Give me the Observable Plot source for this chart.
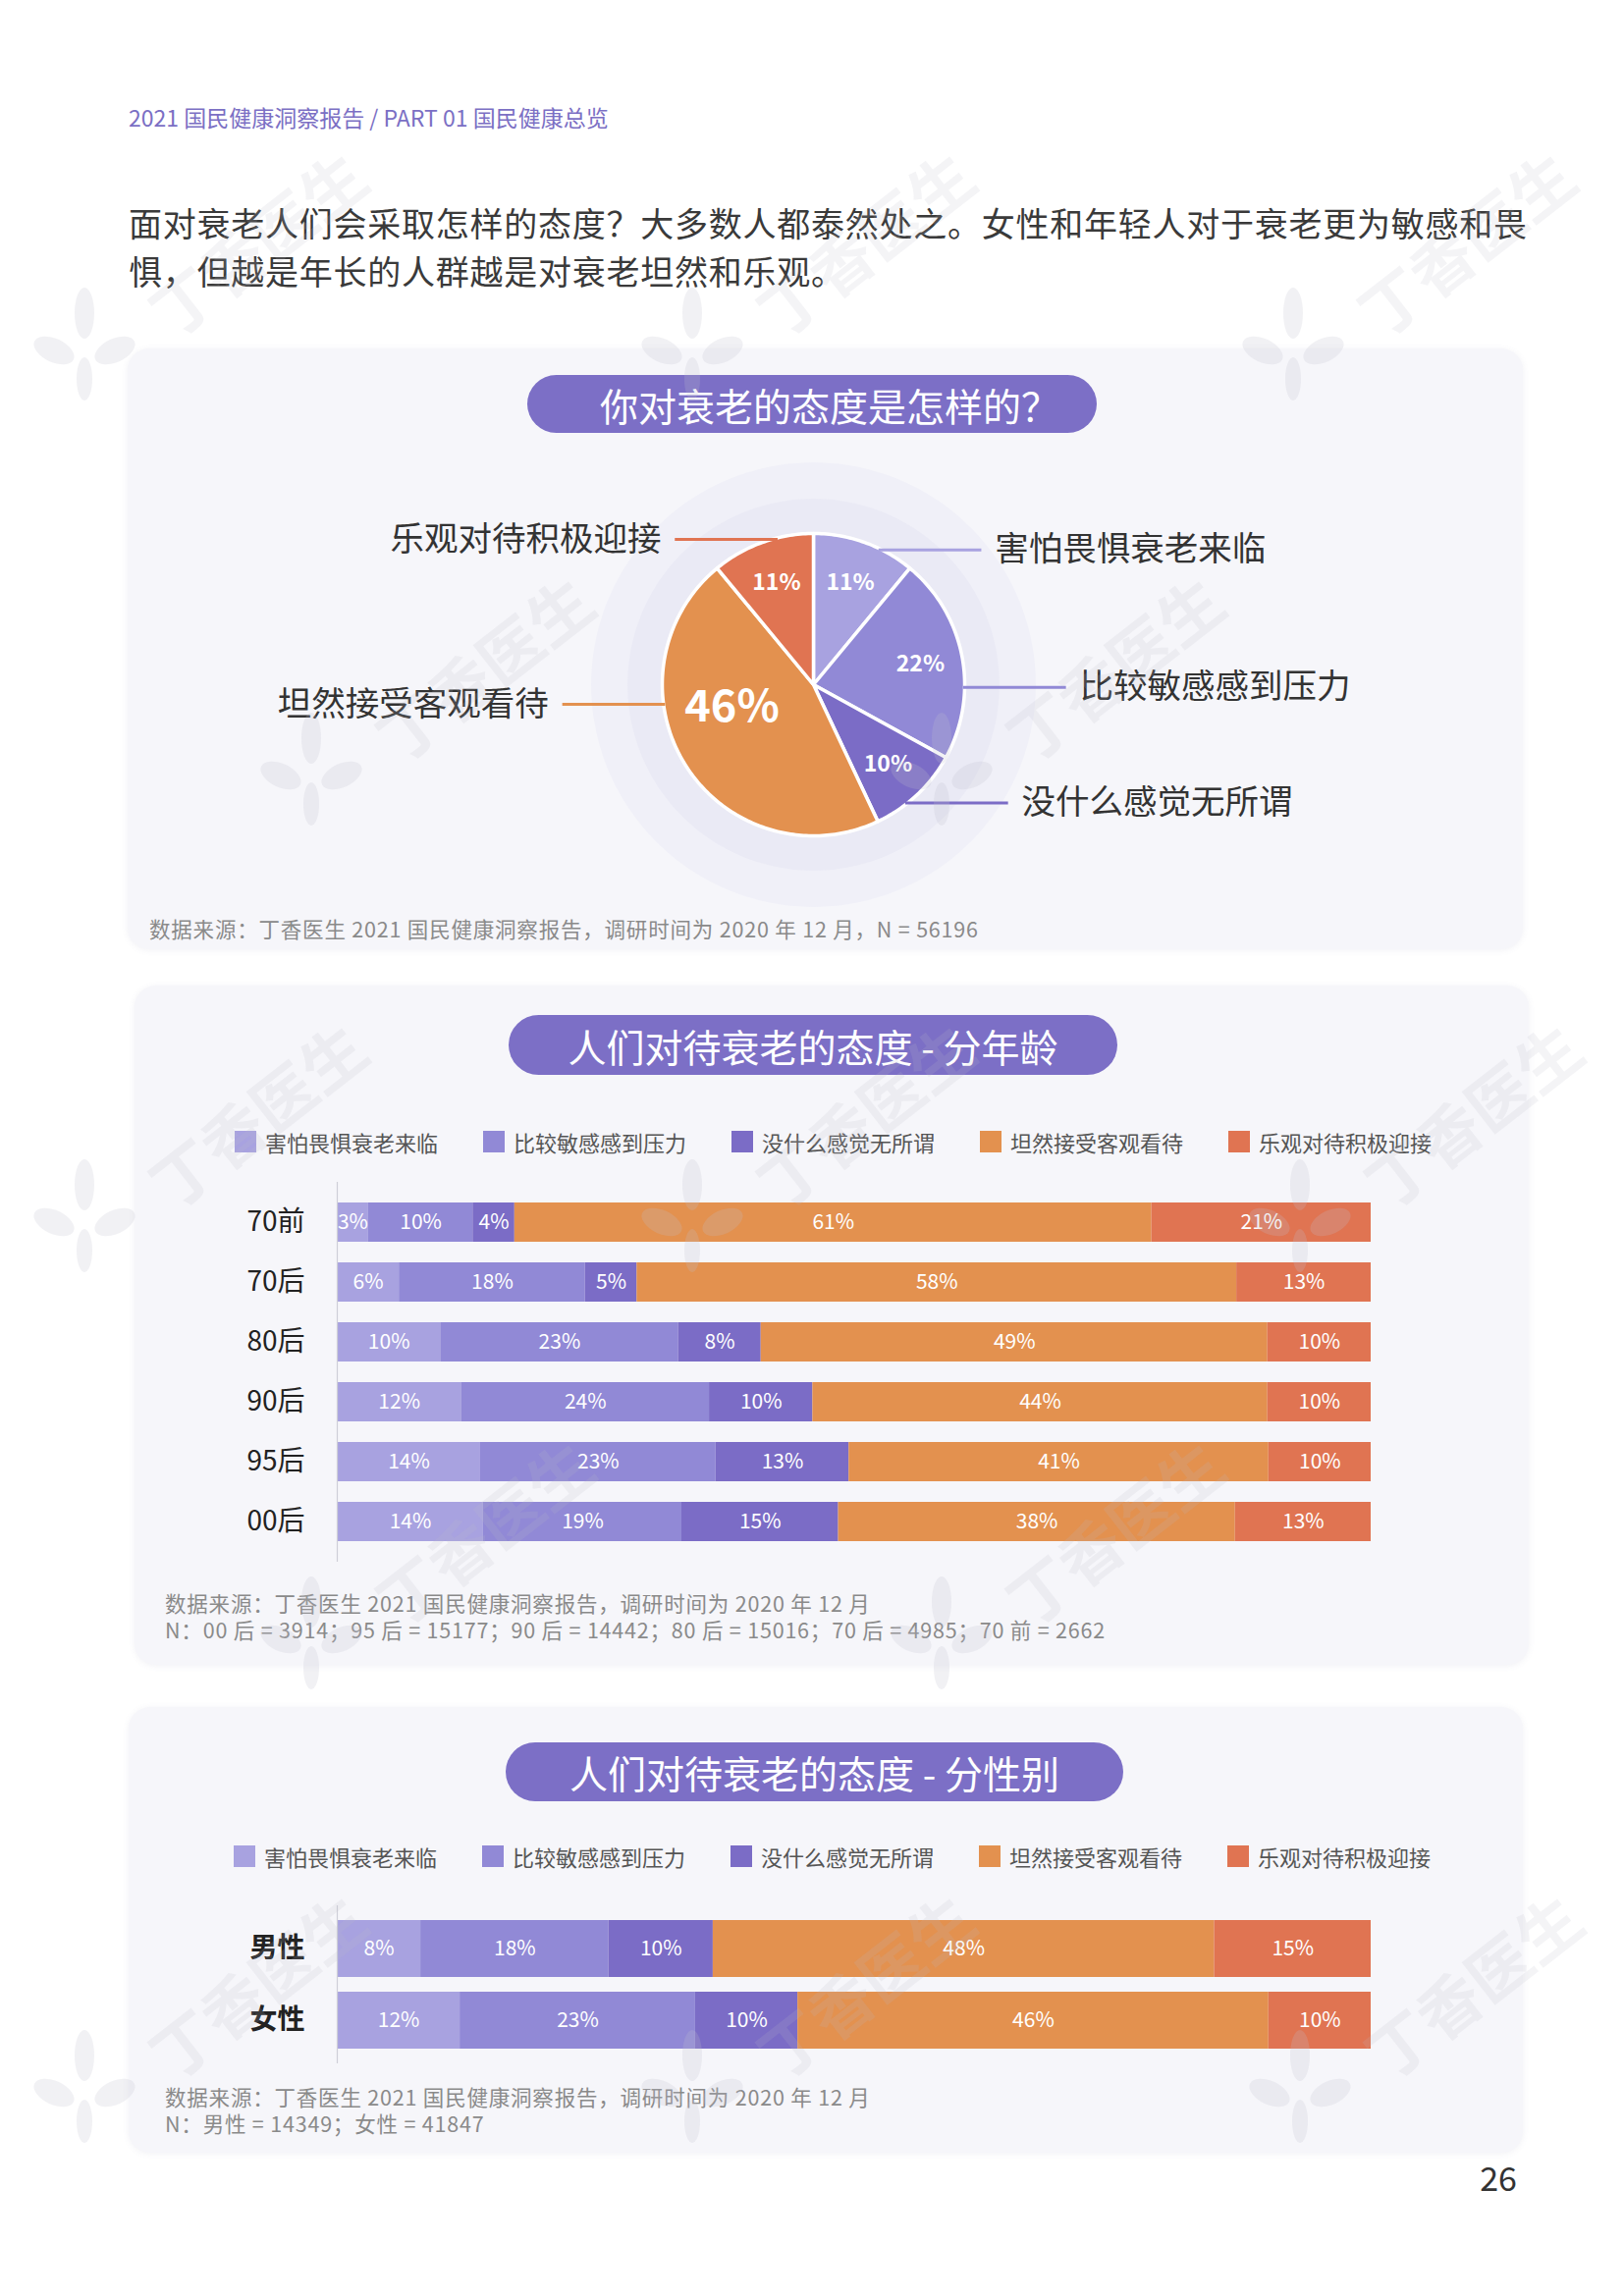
<!DOCTYPE html>
<html><head><meta charset="utf-8">
<script src="https://cdn.jsdelivr.net/npm/d3@7"></script>
<script src="https://cdn.jsdelivr.net/npm/@observablehq/plot@0.6"></script>
<style>
html,body{margin:0;padding:0;background:#fff;}
body{width:1654px;height:2339px;position:relative;overflow:hidden;font-family:"Noto Sans CJK SC","Noto Sans",sans-serif;}
.abs{position:absolute;}
.panel{position:absolute;background:#f6f6fa;border-radius:22px;box-shadow:0 1px 6px rgba(120,120,160,0.10);}
.pill{position:absolute;background:#7c6fc6;color:#fff;border-radius:31px;display:flex;align-items:center;justify-content:center;font-size:39px;white-space:nowrap;box-sizing:border-box;}
.legend{position:absolute;display:flex;align-items:center;gap:46px;font-size:22px;color:#555;height:26px;white-space:nowrap;}
.legend .item{display:flex;align-items:center;gap:9px;}
.legend .sw{width:22px;height:22px;display:inline-block;}
.caption{position:absolute;font-size:21.5px;letter-spacing:0.8px;color:#8a8a8a;line-height:27px;white-space:nowrap;}
.chart{position:absolute;}
.wm{position:absolute;pointer-events:none;}
</style></head>
<body>
<div class="abs" style="left:131px;top:106px;font-size:23px;line-height:26px;color:#7b6fc4;white-space:nowrap;">2021 国民健康洞察报告 / PART 01 国民健康总览</div>
<div class="abs" style="left:131px;top:202px;font-size:34px;letter-spacing:0.75px;line-height:49px;color:#3a3a3a;white-space:nowrap;">面对衰老人们会采取怎样的态度？大多数人都泰然处之。女性和年轻人对于衰老更为敏感和畏<br>惧，但越是年长的人群越是对衰老坦然和乐观。</div>

<div class="panel" style="left:130px;top:355px;width:1421px;height:612px;"></div>
<div class="pill" style="left:537px;top:382px;width:580px;height:59px;padding-left:36px;">你对衰老的态度是怎样的？</div>
<div class="chart" id="pie" style="left:130px;top:447px;"></div>
<div class="caption" style="left:152px;top:932px;">数据来源：丁香医生 2021 国民健康洞察报告，调研时间为 2020 年 12 月，N = 56196</div>

<div class="panel" style="left:137px;top:1004px;width:1420px;height:692px;"></div>
<div class="pill" style="left:518px;top:1034px;width:620px;height:61px;">人们对待衰老的态度 - 分年龄</div>
<div class="legend" id="legend1" style="left:239px;top:1150px;"></div>
<div class="chart" id="ageChart" style="left:137px;top:1190px;"></div>
<div class="caption" style="left:168px;top:1619px;">数据来源：丁香医生 2021 国民健康洞察报告，调研时间为 2020 年 12 月<br>N：00 后 = 3914；95 后 = 15177；90 后 = 14442；80 后 = 15016；70 后 = 4985；70 前 = 2662</div>

<div class="panel" style="left:131px;top:1739px;width:1420px;height:454px;"></div>
<div class="pill" style="left:515px;top:1775px;width:629px;height:60px;">人们对待衰老的态度 - 分性别</div>
<div class="legend" id="legend2" style="left:238px;top:1878px;"></div>
<div class="chart" id="genderChart" style="left:137px;top:1925px;"></div>
<div class="caption" style="left:168px;top:2122px;">数据来源：丁香医生 2021 国民健康洞察报告，调研时间为 2020 年 12 月<br>N：男性 = 14349；女性 = 41847</div>

<div class="abs" style="left:1480px;top:2196px;width:65px;text-align:right;font-size:34px;line-height:44px;color:#333;">26</div>
<div id="wmLayer" class="abs" style="left:0;top:0;width:1654px;height:2339px;pointer-events:none;"></div>

<script>
// ---------- DATA ----------
const categories = ["害怕畏惧衰老来临", "比较敏感感到压力", "没什么感觉无所谓", "坦然接受客观看待", "乐观对待积极迎接"];
const categoryColors = ["#a8a2e0", "#9189d6", "#7b6cc6", "#e3914f", "#e07452"];

// Pie: overall
const pieValues = [11, 22, 10, 46, 11];

// By age group
const ageGroups = ["70前", "70后", "80后", "90后", "95后", "00后"];
const ageFear        = [3, 6, 10, 12, 14, 14];
const ageStress      = [10, 18, 23, 24, 23, 19];
const ageIndifferent = [4, 5, 8, 10, 13, 15];
const ageAccept      = [61, 58, 49, 44, 41, 38];
const ageOptimistic  = [21, 13, 10, 10, 10, 13];

// By gender
const genders = ["男性", "女性"];
const genderFear        = [8, 12];
const genderStress      = [18, 23];
const genderIndifferent = [10, 10];
const genderAccept      = [48, 46];
const genderOptimistic  = [15, 10];

const font = '"Noto Sans CJK SC","Noto Sans",sans-serif';

// ---------- PIE ----------
(function(){
  const W = 1420, H = 500, unit = 154, cx = 698, cy = 250;
  const total = d3.sum(pieValues);
  let acc = 0;
  const slices = categories.map((cat, i) => {
    const a0 = acc / total * 2 * Math.PI; acc += pieValues[i];
    const a1 = acc / total * 2 * Math.PI;
    return {cat, value: pieValues[i], a0, a1};
  });
  const polar = (a, r) => ({x: r * Math.sin(a), y: r * Math.cos(a)});
  const circle = (r, name) => d3.range(0, 361, 2).map(d => ({name, ...polar(d * Math.PI / 180, r)}));
  const slicePts = [];
  slices.forEach(s => {
    slicePts.push({cat: s.cat, ...polar(0, 0)});
    const n = Math.max(2, Math.ceil((s.a1 - s.a0) / (Math.PI / 180)));
    for (let k = 0; k <= n; k++) slicePts.push({cat: s.cat, ...polar(s.a0 + (s.a1 - s.a0) * k / n, 1)});
  });
  const maxV = d3.max(pieValues);
  const labels = slices.map(s => {
    const big = s.value === maxV;
    const a = big ? s.a0 + 0.6 * (s.a1 - s.a0) : (s.a0 + s.a1) / 2;
    return {...s, big, ...polar(a, big ? 0.56 : 0.72), text: s.value + "%"};
  });
  const leaders = slices.map(s => {
    const a = s.a0 + 0.65 * (s.a1 - s.a0);
    const p = polar(a, 0.99);
    const right = Math.sin(a) > 0;
    const len = 0.68, gap = 0.09;
    return {cat: s.cat, right, x1: p.x, y1: p.y, x2: p.x + (right ? len : -len), y2: p.y,
            tx: p.x + (right ? len + gap : -len - gap)};
  });
  const svg = Plot.plot({
    width: W, height: H, margin: 0,
    x: {domain: [-cx / unit, (W - cx) / unit], axis: null},
    y: {domain: [-cy / unit, cy / unit], axis: null},
    color: {domain: categories, range: categoryColors},
    style: {background: "transparent", fontFamily: font, overflow: "visible"},
    marks: [
      Plot.line(circle(1.47, "outer"), {x: "x", y: "y", fill: "#f0f0f8", stroke: "none", curve: "linear-closed"}),
      Plot.line(circle(1.23, "inner"), {x: "x", y: "y", fill: "#eaeaf5", stroke: "none", curve: "linear-closed"}),
      Plot.line(slicePts, {x: "x", y: "y", z: "cat", fill: "cat", stroke: "white", strokeWidth: 3.5, strokeLinejoin: "round", curve: "linear-closed"}),
      Plot.link(leaders, {x1: "x1", y1: "y1", x2: "x2", y2: "y2", stroke: "cat", strokeWidth: 3}),
      Plot.text(leaders.filter(d => d.right), {x: "tx", y: "y2", text: "cat", textAnchor: "start", fontSize: 34.5, fill: "#333"}),
      Plot.text(leaders.filter(d => !d.right), {x: "tx", y: "y2", text: "cat", textAnchor: "end", fontSize: 34.5, fill: "#333"}),
      Plot.text(labels.filter(d => !d.big), {x: "x", y: "y", text: "text", fill: "white", fontSize: 23, fontWeight: "bold"}),
      Plot.text(labels.filter(d => d.big), {x: "x", y: "y", text: "text", fill: "white", fontSize: 45, fontWeight: "bold"})
    ]
  });
  document.getElementById("pie").appendChild(svg);
})();

// ---------- LEGENDS ----------
function buildLegend(id){
  const el = document.getElementById(id);
  categories.forEach((c, i) => {
    const item = document.createElement("div"); item.className = "item";
    const sw = document.createElement("span"); sw.className = "sw"; sw.style.background = categoryColors[i];
    const t = document.createElement("span"); t.textContent = c;
    item.appendChild(sw); item.appendChild(t); el.appendChild(item);
  });
}
buildLegend("legend1"); buildLegend("legend2");

// ---------- STACKED BARS ----------
function tidy(groups, series){
  const rows = [];
  groups.forEach((g, i) => categories.forEach((c, j) => rows.push({group: g, cat: c, value: series[j][i]})));
  return rows;
}
function stackedChart(groups, series, opts){
  const rows = tidy(groups, series);
  const stack = {x: "value", y: "group", z: "cat", order: categories, offset: "normalize"};
  return Plot.plot({
    width: 1420, height: opts.height,
    marginLeft: 206, marginRight: 161, marginTop: opts.marginTop, marginBottom: opts.marginBottom,
    x: {axis: null, domain: [0, 1]},
    y: {domain: groups, padding: opts.padding, label: null, tickSize: 0, tickPadding: 33},
    color: {domain: categories, range: categoryColors},
    style: {background: "transparent", fontFamily: font, fontSize: opts.labelSize + "px", color: "#222", fontWeight: opts.labelWeight, overflow: "visible"},
    marks: [
      Plot.barX(rows, Plot.stackX({...stack, fill: "cat"})),
      Plot.text(rows, Plot.stackX({...stack, text: d => d.value + "%", fill: "white", fontSize: 21, fontWeight: "normal"})),
      Plot.ruleX([0], {stroke: "#cfcfd8", strokeWidth: 1.2})
    ]
  });
}
document.getElementById("ageChart").appendChild(stackedChart(ageGroups,
  [ageFear, ageStress, ageIndifferent, ageAccept, ageOptimistic],
  {height: 412, marginTop: 14, marginBottom: 11, padding: 0.34, labelSize: 28, labelWeight: "normal"}));
document.getElementById("genderChart").appendChild(stackedChart(genders,
  [genderFear, genderStress, genderIndifferent, genderAccept, genderOptimistic],
  {height: 187, marginTop: 16, marginBottom: 10, padding: 0.205, labelSize: 28, labelWeight: "bold"}));

// ---------- WATERMARK (decorative) ----------
(function(){
  const layer = document.getElementById("wmLayer");
  const s = 1.4915;
  const rows = [[165, [175, 590, 1000]], [455, [330, 760]], [760, [175, 590, 1005]], [1045, [330, 760]], [1355, [175, 590, 1005]]];
  rows.forEach(([y, xs]) => xs.forEach(x => {
    const t = document.createElement("div");
    t.className = "wm";
    t.textContent = "丁香医生";
    t.style.cssText = `left:${x*s-150}px;top:${y*s-40}px;width:300px;text-align:center;font-size:64px;line-height:80px;font-weight:bold;color:rgba(185,185,200,0.16);transform:rotate(-38deg);`;
    layer.appendChild(t);
    const f = document.createElementNS("http://www.w3.org/2000/svg", "svg");
    f.setAttribute("width", 110); f.setAttribute("height", 120);
    f.setAttribute("class", "wm");
    f.style.left = (x*s - 230) + "px"; f.style.top = (y*s + 45) + "px";
    f.innerHTML = `<g fill="rgba(190,190,205,0.22)">
      <ellipse cx="55" cy="28" rx="10" ry="26"/>
      <ellipse cx="24" cy="66" rx="22" ry="12" transform="rotate(25 24 66)"/>
      <ellipse cx="86" cy="66" rx="22" ry="12" transform="rotate(-25 86 66)"/>
      <ellipse cx="55" cy="95" rx="8" ry="22"/></g>`;
    layer.appendChild(f);
  }));
})();
</script>
</body></html>
